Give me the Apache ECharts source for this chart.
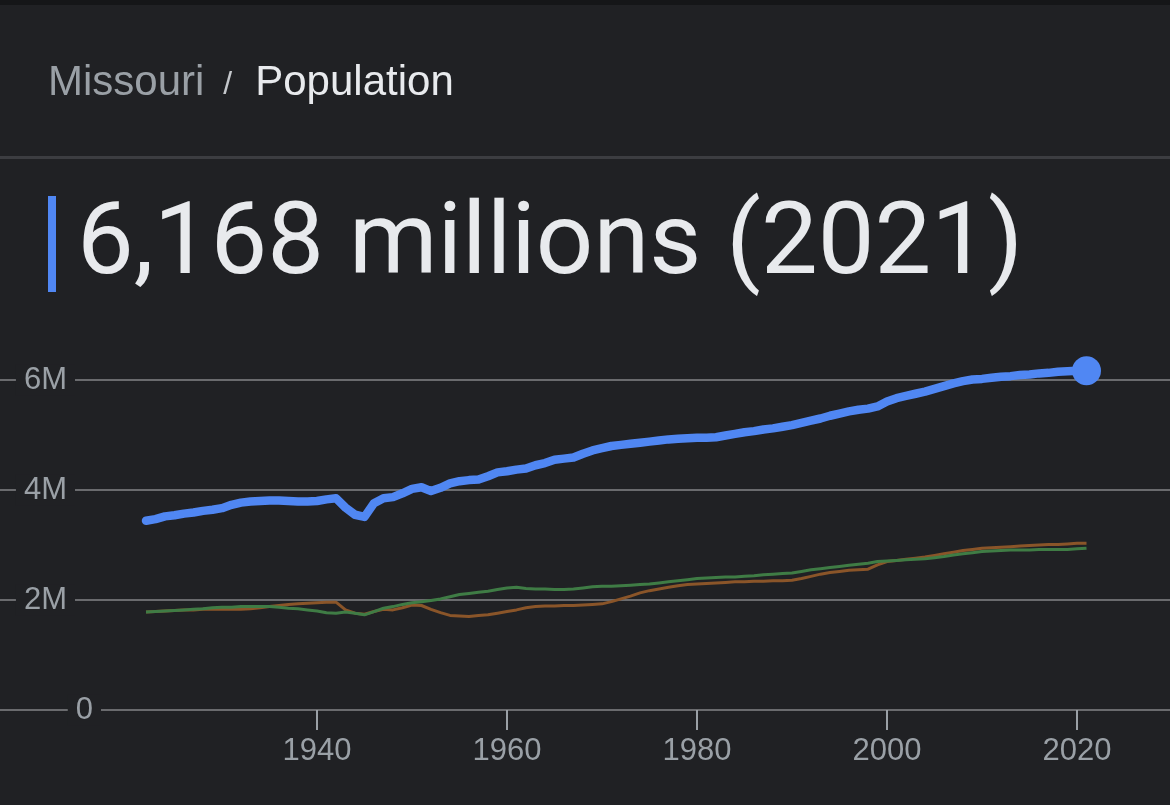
<!DOCTYPE html>
<html><head><meta charset="utf-8">
<script src="https://cdn.jsdelivr.net/npm/echarts@6/dist/echarts.min.js"></script>
<style>html,body{margin:0;padding:0;background:#202124;}#c{width:1170px;height:805px;}</style>
</head><body><div id="c"></div>
<script>
// ---- data (population in millions) ----
const startYear = 1922;
const totalPop = [
  3.44,3.47,3.52,3.54,3.57,3.59,3.62,3.64,3.67,3.73, // 1922-1931
  3.77,3.79,3.80,3.81,3.81,3.80,3.79,3.79,3.80,3.83, // 1932-1941
  3.85,3.68,3.55,3.51,3.76,3.85,3.87,3.94,4.02,4.05, // 1942-1951
  3.98,4.04,4.12,4.16,4.18,4.19,4.25,4.32,4.34,4.37, // 1952-1961
  4.39,4.45,4.49,4.55,4.57,4.59,4.66,4.72,4.76,4.80, // 1962-1971
  4.82,4.84,4.86,4.88,4.90,4.92,4.93,4.94,4.95,4.95, // 1972-1981
  4.96,4.99,5.02,5.05,5.07,5.10,5.12,5.15,5.18,5.22, // 1982-1991
  5.26,5.30,5.35,5.39,5.43,5.46,5.48,5.52,5.61,5.67, // 1992-2001
  5.71,5.75,5.79,5.84,5.89,5.94,5.98,6.01,6.02,6.04, // 2002-2011
  6.06,6.07,6.09,6.10,6.12,6.13,6.15,6.16,6.17,6.168 // 2012-2021
];
const greenPop = [
  1.78,1.79,1.80,1.81,1.82,1.83,1.84,1.86,1.87,1.87,
  1.88,1.88,1.88,1.88,1.87,1.85,1.84,1.82,1.80,1.77,
  1.76,1.78,1.76,1.73,1.79,1.85,1.88,1.92,1.95,1.97,
  1.99,2.02,2.06,2.10,2.12,2.14,2.16,2.19,2.22,2.23,
  2.21,2.20,2.20,2.19,2.19,2.20,2.22,2.24,2.25,2.25,
  2.26,2.27,2.28,2.29,2.31,2.33,2.35,2.37,2.39,2.40,
  2.41,2.42,2.42,2.43,2.44,2.46,2.47,2.48,2.49,2.52,
  2.55,2.57,2.59,2.61,2.63,2.65,2.67,2.70,2.71,2.72,
  2.73,2.74,2.75,2.77,2.79,2.82,2.84,2.86,2.88,2.89,
  2.90,2.91,2.91,2.91,2.92,2.92,2.92,2.92,2.93,2.94
];
const brownPop = [
  1.78,1.79,1.80,1.81,1.82,1.82,1.83,1.83,1.83,1.83,
  1.83,1.84,1.86,1.88,1.90,1.92,1.93,1.94,1.95,1.96,
  1.96,1.82,1.76,1.74,1.79,1.83,1.82,1.86,1.91,1.90,
  1.83,1.77,1.72,1.71,1.70,1.72,1.73,1.76,1.79,1.82,
  1.86,1.88,1.89,1.89,1.90,1.90,1.91,1.92,1.93,1.97,
  2.02,2.07,2.13,2.17,2.20,2.23,2.26,2.28,2.29,2.30,
  2.31,2.32,2.33,2.33,2.34,2.34,2.35,2.35,2.36,2.39,
  2.43,2.47,2.50,2.52,2.54,2.55,2.56,2.64,2.70,2.72,
  2.74,2.76,2.78,2.81,2.84,2.87,2.90,2.92,2.94,2.95,
  2.96,2.97,2.98,2.99,3.00,3.01,3.01,3.02,3.03,3.03
];
const yTicks = [0, 2, 4, 6];
const xTickYears = [1940, 1960, 1980, 2000, 2020];
const crumbPlace = 'Missouri';
const crumbTopic = 'Population';
const headline = '6,168 millions (2021)';

// ---- build ----
const years = totalPop.map((_, i) => startYear + i);
const pairs = arr => arr.map((v, i) => [years[i], v]);
const lastIdx = totalPop.length - 1;

const W = 1170;
const pxPerYear = 9.5, anchorYear = 1940, anchorX = 317;
const xMin = anchorYear - anchorX / pxPerYear;
const xMax = xMin + W / pxPerYear;

const BLUE = '#5087f3';
const chart = echarts.init(document.getElementById('c'), null, {renderer: 'canvas'});
chart.setOption({
  backgroundColor: '#202124',
  animation: false,
  title: [
    {
      left: 48, top: 62, padding: 0,
      text: '{a|' + crumbPlace + '}{s|/}{b|' + crumbTopic + '}',
      textStyle: {
        fontWeight: 'normal',
        rich: {
          a: {fontSize: 42, fontWeight: 'normal', color: '#9aa0a6', fontFamily: 'Liberation Sans'},
          s: {fontSize: 32, fontWeight: 'normal', color: '#c4c7cb', fontFamily: 'Liberation Sans', padding: [4, 23, 0, 19]},
          b: {fontSize: 42, fontWeight: 'normal', color: '#e8eaed', fontFamily: 'Liberation Sans'}
        }
      }
    },
    {
      left: 77, top: 197, padding: 0,
      text: headline,
      textStyle: {fontSize: 101, fontFamily: 'Roboto', fontWeight: 'normal', color: '#e8eaed'}
    }
  ],
  graphic: [
    {type: 'rect', shape: {x: 0, y: 0, width: W, height: 5}, style: {fill: '#151618'}, silent: true},
    {type: 'rect', shape: {x: 0, y: 156, width: W, height: 3}, style: {fill: '#3c3d41'}, silent: true},
    {type: 'rect', shape: {x: 48, y: 196, width: 8, height: 96}, style: {fill: BLUE}, silent: true}
  ],
  grid: {left: 0, right: 0, top: 380, bottom: 95, outerBoundsMode: 'none'},
  xAxis: {
    type: 'value', min: xMin, max: xMax,
    splitLine: {show: false},
    axisLine: {show: false},
    axisTick: {show: true, customValues: xTickYears, length: 20, lineStyle: {color: '#9aa0a6', width: 2}},
    axisLabel: {customValues: xTickYears, margin: 26, fontSize: 31, color: '#9aa0a6', fontFamily: 'Liberation Sans',
                formatter: v => String(v)}
  },
  yAxis: {
    type: 'value', min: yTicks[0], max: yTicks[yTicks.length - 1], interval: yTicks[1] - yTicks[0],
    axisLine: {show: false},
    axisTick: {show: false},
    splitLine: {show: true, lineStyle: {color: '#6a6b6e', width: 2}},
    axisLabel: {
      inside: true, margin: 101, align: 'right',
      formatter: v => v === 0 ? '{m|0}' : '{m|' + v + 'M}{s|}',
      rich: {
        m: {fontSize: 31, color: '#9aa0a6', fontFamily: 'Liberation Sans', backgroundColor: '#202124', padding: [0, 8]},
        s: {width: 26}
      }
    }
  },
  series: [
    {type: 'line', name: 'brown', data: pairs(brownPop), symbol: 'none', z: 2, clip: false,
     lineStyle: {color: '#8a5529', width: 3}},
    {type: 'line', name: 'green', data: pairs(greenPop), symbol: 'none', z: 3, clip: false,
     lineStyle: {color: '#3f7c45', width: 3}},
    {type: 'line', name: 'total', data: pairs(totalPop), symbol: 'none', z: 4, clip: false,
     lineStyle: {color: BLUE, width: 8.5, cap: 'round', join: 'round'}},
    {type: 'scatter', name: 'latest', data: [[years[lastIdx], totalPop[lastIdx]]], symbolSize: 29, z: 5, clip: false,
     itemStyle: {color: BLUE, opacity: 1}}
  ]
});
</script></body></html>
